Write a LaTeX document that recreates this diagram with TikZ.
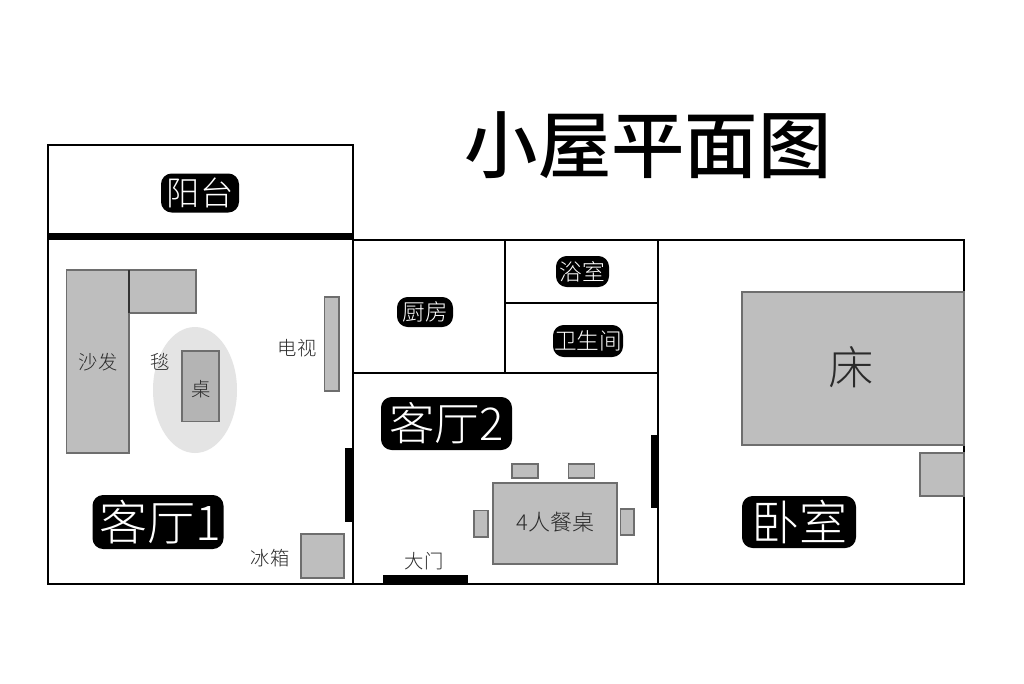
\documentclass[tikz,border=0pt]{standalone}
\usepackage{fontspec}
\setmainfont{Noto Sans CJK SC}
\newfontfamily\cjklight{Noto Sans CJK SC Light}
\newfontfamily\cjkmedium{Noto Sans CJK SC Medium}
\definecolor{fur}{HTML}{BEBEBE}
\definecolor{desktop}{HTML}{B4B4B4}
\definecolor{furline}{HTML}{6E6E6E}
\definecolor{rug}{HTML}{E4E4E4}
\definecolor{labelink}{HTML}{2A2A2A}
\tikzset{x=0.75pt,y=-0.75pt,
 wall/.style={draw=black,line width=1pt,fill=white},
 heavy/.style={fill=black,draw=none},
 furn/.style={draw=furline,line width=0.9pt,fill=fur},
 tag/.style={fill=black,text=white,rounded corners=8pt,inner sep=0pt,font=\cjklight},
 plain/.style={text=labelink,inner sep=0pt,font=\cjklight}}
\begin{document}
\begin{tikzpicture}
\useasboundingbox (0,0) rectangle (1024,683);
\fill[white] (0,0) rectangle (1024,683);
% rooms
\draw[wall] (48,145) rectangle (353,238);
\draw[wall] (48,238) rectangle (353,584);
\draw[wall] (353,240) rectangle (658,584);
\draw[wall] (658,240) rectangle (964,584);
\draw[wall] (353,373) -- (658,373);
\draw[wall] (505,240) -- (505,373);
\draw[wall] (505,303) -- (658,303);
% thick walls
\fill[heavy] (48,233) rectangle (353,240);
\fill[heavy] (345,448) rectangle (353,522);
\fill[heavy] (651,435) rectangle (658,508);
\fill[heavy] (383,575) rectangle (468,584);
% living room 1
\draw[furn] (66.5,270) rectangle (129,453);
\draw[furn] (129,270) rectangle (196,313);
\draw[draw=black!80,line width=0.9pt] (129,270) -- (129,313);
\fill[rug] (195,390) ellipse [x radius=42,y radius=63];
\draw[furn,fill=desktop] (182,351) rectangle (219,421.5);
\draw[furn] (324.5,297) rectangle (339,391);
\draw[furn] (301,534) rectangle (344,578);
% living room 2
\draw[furn] (493,483) rectangle (617,564);
\draw[furn] (512,464) rectangle (538,478);
\draw[furn] (568.5,464) rectangle (594.5,478);
\draw[furn] (474,510.5) rectangle (488,537);
\draw[furn] (620.5,509) rectangle (634,535);
% bedroom
\draw[furn] (742,292) rectangle (964,445);
\draw[furn] (920,453) rectangle (964,496);
% title
\node[inner sep=0pt,font=\cjkmedium\fontsize{55pt}{55pt}\selectfont] (title) at (648,145) {小屋平面图};
% tags
\node[tag,minimum width=78pt*0.75,minimum height=39pt*0.75,font=\cjklight\fontsize{25pt}{25pt}\selectfont] (balcony) at (200,193) {阳台};
\node[tag,minimum width=56pt*0.75,minimum height=30pt*0.75,font=\cjklight\fontsize{17pt}{17pt}\selectfont] (kitchen) at (425,312) {厨房};
\node[tag,minimum width=53pt*0.75,minimum height=31pt*0.75,font=\cjklight\fontsize{17pt}{17pt}\selectfont] (bath) at (582.5,271.5) {浴室};
\node[tag,minimum width=70pt*0.75,minimum height=32pt*0.75,font=\cjklight\fontsize{17pt}{17pt}\selectfont] (wc) at (588,341) {卫生间};
\node[tag,minimum width=131pt*0.75,minimum height=53pt*0.75,font=\cjklight\fontsize{34pt}{34pt}\selectfont] (lr2) at (446.5,423.5) {客厅2};
\node[tag,minimum width=131pt*0.75,minimum height=54pt*0.75] (lr1) at (158,522) {\fontsize{36pt}{36pt}\selectfont\hspace{3pt}客厅1};
\node[tag,minimum width=114pt*0.75,minimum height=52pt*0.75,font=\cjklight\fontsize{36pt}{36pt}\selectfont] (bedroom) at (799,522) {卧室};
% labels
\node[plain,font=\cjklight\fontsize{14.5pt}{14.5pt}\selectfont] (sofa) at (98,362) {沙发};
\node[plain,font=\cjklight\fontsize{14.5pt}{14.5pt}\selectfont] (carpet) at (160,362) {毯};
\node[plain,font=\cjklight\fontsize{14.5pt}{14.5pt}\selectfont] (desk) at (201,389) {桌};
\node[plain,font=\cjklight\fontsize{14.5pt}{14.5pt}\selectfont] (tv) at (297,348) {电视};
\node[plain,font=\cjklight\fontsize{14.5pt}{14.5pt}\selectfont] (fridge) at (270,558) {冰箱};
\node[plain,font=\cjklight\fontsize{14.5pt}{14.5pt}\selectfont] (door) at (424,561) {大门};
\node[plain,font=\cjklight\fontsize{16.5pt}{16.5pt}\selectfont] (table) at (555.5,522) {4人餐桌};
\node[plain,font=\cjklight\fontsize{34pt}{34pt}\selectfont] (bed) at (851,367) {床};
\end{tikzpicture}
\end{document}
